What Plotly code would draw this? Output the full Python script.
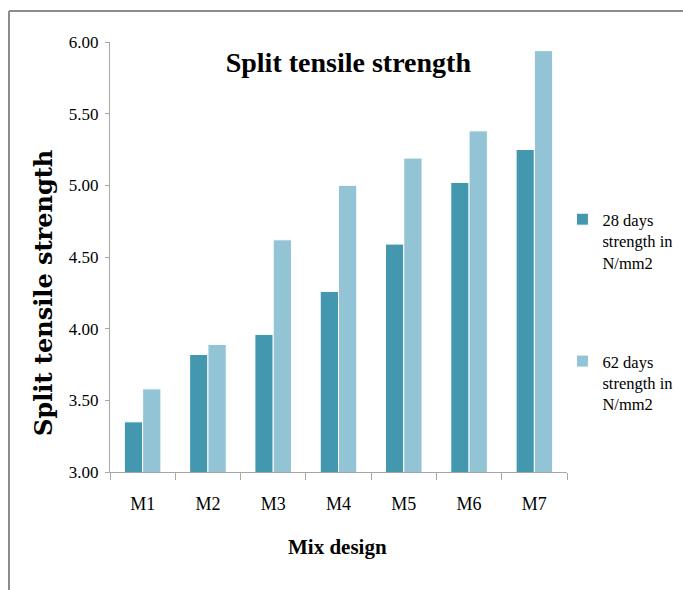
import plotly.graph_objects as go

# Mix designs and split tensile strength (N/mm2)
mixes = ["M1", "M2", "M3", "M4", "M5", "M6", "M7"]
strength_28 = [3.35, 3.82, 3.96, 4.26, 4.59, 5.02, 5.25]
strength_62 = [3.58, 3.89, 4.62, 5.00, 5.19, 5.38, 5.94]
series_names = ["28 days<br>strength in<br>N/mm2", "62 days<br>strength in<br>N/mm2"]
y_ticks = [3.0, 3.5, 4.0, 4.5, 5.0, 5.5, 6.0]

SERIF = "Liberation Serif"
DARK = "#4398B0"
LIGHT = "#93C4D6"
AXIS = "#A6A6A6"

fig = go.Figure()
fig.add_trace(go.Bar(
    x=mixes, y=strength_28, name=series_names[0], legend="legend",
    showlegend=True,
    marker=dict(color=DARK, line=dict(color="white", width=1)),
))
fig.add_trace(go.Bar(
    x=mixes, y=strength_62, name=series_names[1], legend="legend2",
    showlegend=True,
    marker=dict(color=LIGHT, line=dict(color="white", width=1)),
))

legend_style = dict(
    x=0.99, xanchor="left", yanchor="top", valign="top",
    font=dict(family=SERIF, size=16.5, color="black"),
    bgcolor="rgba(0,0,0,0)", itemclick=False, itemdoubleclick=False,
    visible=True,
)

fig.update_layout(
    width=683, height=590,
    margin=dict(l=110, r=116, t=42, b=118, autoexpand=False),
    paper_bgcolor="white", plot_bgcolor="white",
    barmode="group", bargap=0.44, bargroupgap=0.0,
    showlegend=True,
    font=dict(family=SERIF, color="black"),
    title=dict(
        text="<b>Split tensile strength</b>",
        font=dict(family=SERIF, size=28, color="black"),
        x=0.51, xanchor="center", xref="container",
        y=1 - 62 / 590, yanchor="middle", yref="container",
    ),
    legend=dict(y=0.628, **legend_style),
    legend2=dict(y=0.298, **legend_style),
    xaxis=dict(
        showline=True, linecolor=AXIS, linewidth=1,
        ticks="outside", tickson="boundaries", ticklen=7, tickcolor=AXIS,
        tickfont=dict(family=SERIF, size=18, color="black"),
        ticklabelstandoff=15,
        showgrid=False, zeroline=False,
    ),
    yaxis=dict(
        range=[3, 6], tickvals=y_ticks, tickformat=".2f",
        showline=True, linecolor=AXIS, linewidth=1,
        ticks="outside", ticklen=4, tickcolor=AXIS,
        tickfont=dict(family=SERIF, size=17, color="black"),
        ticklabelstandoff=3,
        showgrid=False, zeroline=False,
    ),
)

# Axis titles
fig.add_annotation(
    text="<b>Split tensile strength</b>", textangle=-90,
    xref="paper", yref="paper", x=-0.147, y=0.416,
    xanchor="center", yanchor="middle",
    showarrow=False, font=dict(family="DejaVu Serif", size=24, color="black"),
)
fig.add_annotation(
    text="<b>Mix design</b>",
    xref="paper", yref="paper", x=0.497, y=-0.174,
    xanchor="center", yanchor="middle",
    showarrow=False, font=dict(family=SERIF, size=21, color="black"),
)

# Chart frame (top and left edges)
frame = dict(color="#8C8C8C", width=2)
fig.add_shape(type="line", xref="paper", yref="paper",
              x0=-0.221, x1=1.3, y0=1.072, y1=1.072, line=frame)
fig.add_shape(type="line", xref="paper", yref="paper",
              x0=-0.221, x1=-0.221, y0=1.072, y1=-0.3, line=frame)

fig.write_html("out.html", config={"displayModeBar": False})
